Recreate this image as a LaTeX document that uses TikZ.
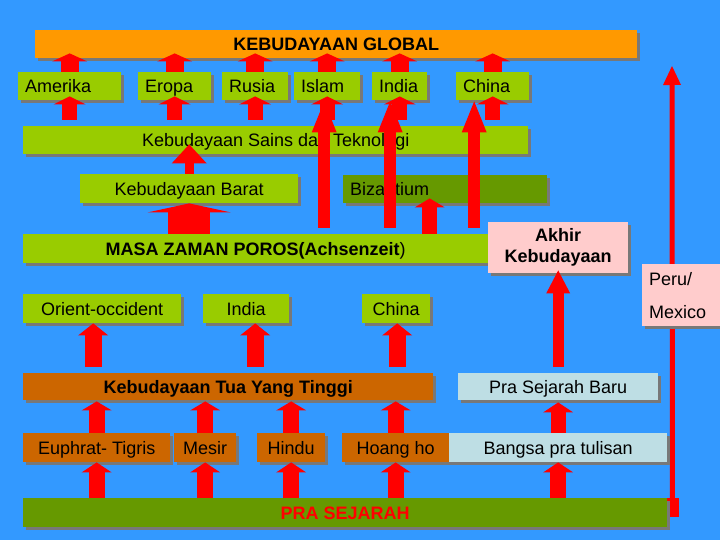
\documentclass[tikz,border=0pt]{standalone}
\usepackage{fontspec}
\setmainfont{Liberation Sans}
\usetikzlibrary{arrows.meta,shadows}
\definecolor{latar}{RGB}{51,153,255}
\definecolor{oranye}{RGB}{255,153,0}
\definecolor{hijau}{RGB}{153,204,0}
\definecolor{hijautua}{RGB}{102,153,0}
\definecolor{coklat}{RGB}{204,102,0}
\definecolor{merahmuda}{RGB}{255,204,204}
\definecolor{birumuda}{RGB}{190,222,228}
\definecolor{merah}{RGB}{255,0,0}
\definecolor{bayang}{RGB}{120,120,120}
\begin{document}
\begin{tikzpicture}[x=1pt,y=-1pt,
    kotak/.style={anchor=north west, inner sep=0pt, minimum height=28pt,
      font=\fontsize{18}{21}\selectfont,
      drop shadow={shadow xshift=3pt,shadow yshift=-3pt,fill=bayang,opacity=1}},
    satu/.style={text height=16.4pt, text depth=3.5pt},
    kiri/.style={align=left, inner xsep=7pt, text width=#1},
    tebal/.style={font=\fontsize{18}{21}\selectfont\bfseries},
    panah/.style n args={3}{draw=merah, line width=#1pt,
      -{Triangle[width=#2pt,length=#3pt,line width=0pt]}}]
  \useasboundingbox (0,0) rectangle (720,540);
  \fill[latar] (0,0) rectangle (720,540);
  % garis panjang di kanan
  \node[fill=merah, minimum width=13pt, minimum height=19pt, inner sep=0pt] (ujung) at (672.5,507.5) {};
  \coordinate (puncak) at (672,66);
  \draw[panah={5}{18}{19}] (ujung.center) -- (puncak);
  % kotak-kotak
  \node[kotak, satu, fill=oranye, minimum width=602pt, tebal] (global) at (35,30) {KEBUDAYAAN GLOBAL};
  \node[kotak, satu, fill=hijau, kiri=89pt] (amerika) at (18,72) {Amerika};
  \node[kotak, satu, fill=hijau, kiri=59pt] (eropa) at (138,72) {Eropa};
  \node[kotak, satu, fill=hijau, kiri=52pt] (rusia) at (222,72) {Rusia};
  \node[kotak, satu, fill=hijau, kiri=52pt] (islam) at (294,72) {Islam};
  \node[kotak, satu, fill=hijau, kiri=41pt] (indiaA) at (372,72) {India};
  \node[kotak, satu, fill=hijau, kiri=59pt] (chinaA) at (456,72) {China};
  \node[kotak, satu, fill=hijau, minimum width=505pt] (sains) at (23,126) {Kebudayaan Sains dan Teknologi};
  \node[kotak, satu, fill=hijau, minimum width=218pt, minimum height=29pt] (barat) at (80,174) {Kebudayaan Barat};
  \node[kotak, satu, fill=hijautua, kiri=190pt] (bizantium) at (343,175) {Bizantium};
  \node[kotak, satu, fill=hijau, minimum width=465pt, minimum height=29pt, tebal] (poros) at (23,234) {MASA ZAMAN POROS(Achsenzeit\textmd{)}};
  \node[kotak, fill=merahmuda, minimum width=140pt, minimum height=51pt, align=center, tebal] (akhir) at (488,222) {Akhir\\Kebudayaan};
  \node[kotak, fill=merahmuda, kiri=76pt, minimum height=62pt] (peru) at (642,264) {Peru/\\[12pt]Mexico};
  \node[kotak, satu, fill=hijau, minimum width=158pt, minimum height=29pt] (orient) at (23,294) {Orient-occident};
  \node[kotak, satu, fill=hijau, minimum width=86pt, minimum height=29pt] (indiaB) at (203,294) {India};
  \node[kotak, satu, fill=hijau, minimum width=68pt, minimum height=29pt] (chinaB) at (362,294) {China};
  \node[kotak, satu, fill=coklat, minimum width=410pt, minimum height=27pt, tebal] (tua) at (23,373) {Kebudayaan Tua Yang Tinggi};
  \node[kotak, satu, fill=birumuda, minimum width=200pt, minimum height=27pt] (prabaru) at (458,373) {Pra Sejarah Baru};
  \node[kotak, satu, fill=coklat, minimum width=147pt, minimum height=29pt] (efrat) at (23,433) {Euphrat- Tigris};
  \node[kotak, satu, fill=coklat, minimum width=62pt, minimum height=29pt] (mesir) at (174,433) {Mesir};
  \node[kotak, satu, fill=coklat, minimum width=68pt, minimum height=29pt] (hindu) at (257,433) {Hindu};
  \node[kotak, satu, fill=coklat, minimum width=107pt, minimum height=29pt] (hoangho) at (342,433) {Hoang ho};
  \node[kotak, satu, fill=birumuda, minimum width=218pt, minimum height=29pt] (bangsa) at (449,433) {Bangsa pra tulisan};
  \node[kotak, satu, fill=hijautua, minimum width=644pt, minimum height=29pt, text=merah, tebal] (prasejarah) at (23,498) {PRA SEJARAH};
  % panah ke atas
  \foreach \k in {amerika,eropa,rusia,islam,indiaA,chinaA} {
    \draw[panah={18}{35}{8}] (\k.north) -- ([yshift=5pt]\k.north |- global.south);
    \draw[panah={15}{32}{8}] ([yshift=6pt]\k.south |- sains.north) -- ([yshift=4pt]\k.south);
  }
  \draw[panah={12}{25}{31}] ([xshift=-3pt,yshift=6pt]islam.south |- poros.north) -- ([xshift=-3pt,yshift=-1pt]islam.south);
  \draw[panah={12}{25}{31}] ([xshift=-9.5pt,yshift=6pt]indiaA.south |- poros.north) -- ([xshift=-9.5pt,yshift=-1pt]indiaA.south);
  \draw[panah={12}{25}{31}] ([xshift=-18.5pt,yshift=6pt]chinaA.south |- poros.north) -- ([xshift=-18.5pt,yshift=-1pt]chinaA.south);
  \draw[panah={9}{35}{19}] (barat.north) -- ([yshift=10pt]barat.north |- sains.south);
  \draw[panah={42}{83}{9}] (barat.south |- poros.north) -- (barat.south);
  \draw[panah={15}{30}{9}] ([xshift=-15.5pt]bizantium.south |- poros.north) -- ([xshift=-15.5pt,yshift=5pt]bizantium.south);
  \draw[panah={17}{30}{12}] ([xshift=-9pt,yshift=6pt]orient.south |- tua.north) -- ([xshift=-9pt]orient.south);
  \draw[panah={17}{30}{12}] ([xshift=9pt,yshift=6pt]indiaB.south |- tua.north) -- ([xshift=9pt]indiaB.south);
  \draw[panah={17}{30}{12}] ([xshift=1pt,yshift=6pt]chinaB.south |- tua.north) -- ([xshift=1pt]chinaB.south);
  \foreach \k in {efrat,mesir,hindu,hoangho} {
    \draw[panah={16}{30}{9}] (\k.north) -- ([yshift=-1pt]\k.north |- tua.south);
  }
  \draw[panah={15}{30}{10}] (bangsa.north) -- ([yshift=-2pt]bangsa.north |- prabaru.south);
  \foreach \k in {efrat,mesir,hindu,hoangho,bangsa} {
    \draw[panah={16}{30}{10}] (\k.south |- prasejarah.north) -- (\k.south);
  }
  \draw[panah={11}{24}{23}] ([yshift=6pt]prabaru.north) -- ([yshift=3pt]akhir.south);
\end{tikzpicture}
\end{document}
